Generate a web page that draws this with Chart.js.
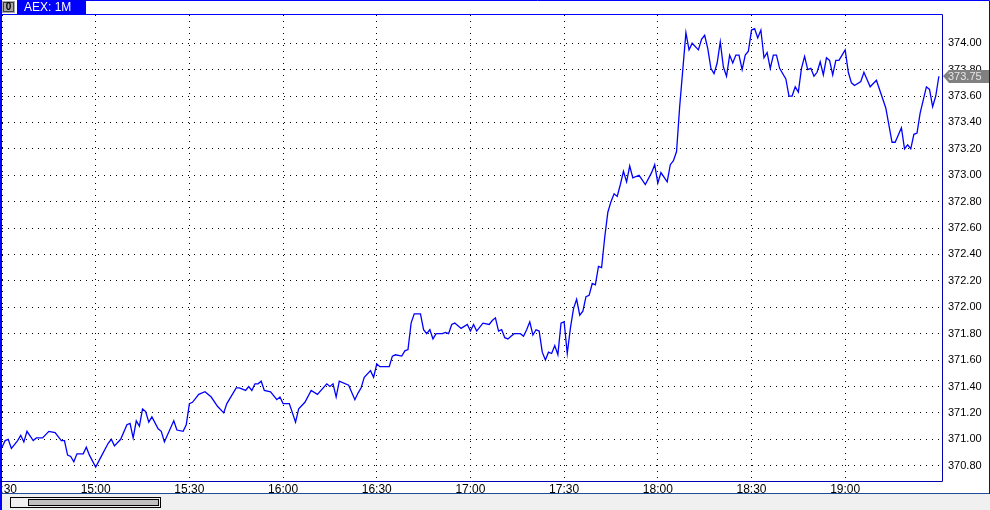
<!DOCTYPE html>
<html>
<head>
<meta charset="utf-8">
<script src="https://cdn.jsdelivr.net/npm/chart.js@4.4.1/dist/chart.umd.min.js"></script>
<style>
  html, body { margin: 0; padding: 0; background: #ffffff; }
  canvas { display: block; }
</style>
</head>
<body>
<canvas id="chart" width="990" height="510"></canvas>
<script>
// AEX, 1-minute bars: minutes after 14:30 and last price
const sessionStart = '14:30';
const minutes = [
  0, 1, 2, 3, 4, 5, 6, 7, 8, 10, 11, 13, 15, 17, 19, 20, 21, 22, 23, 24,
  26, 27, 28, 30, 32, 34, 35, 36, 38, 40, 41, 42, 43, 44, 45, 46, 47, 48, 50, 51,
  52, 55, 56, 58, 59, 60, 61, 63, 65, 67, 69, 71, 72, 75, 76, 78, 79, 80, 81, 82,
  83, 84, 86, 88, 89, 90, 92, 94, 95, 97, 99, 101, 104, 105, 106, 107, 108, 111, 113, 114,
  115, 116, 118, 119, 120, 121, 124, 125, 126, 128, 129, 130, 131, 132, 134, 135, 136, 137, 138, 139,
  141, 142, 143, 144, 145, 147, 149, 150, 151, 152, 154, 156, 157, 158, 159, 160, 161, 162, 163, 164,
  166, 167, 168, 169, 170, 171, 172, 173, 174, 175, 176, 177, 178, 179, 180, 181, 182, 183, 184, 185,
  186, 187, 188, 189, 190, 191, 192, 193, 194, 195, 196, 197, 198, 199, 200, 201, 202, 204, 206, 208,
  209, 210, 211, 213, 214, 215, 216, 217, 218, 219, 220, 221, 223, 224, 225, 226, 227, 228, 229, 230,
  231, 232, 233, 234, 235, 236, 237, 238, 239, 240, 241, 242, 243, 244, 245, 246, 247, 248, 249, 251,
  252, 253, 254, 255, 256, 257, 258, 259, 260, 261, 262, 263, 264, 265, 266, 267, 268, 269, 270, 271,
  272, 273, 275, 276, 278, 280, 281, 283, 285, 286, 288, 289, 290, 291, 292, 293, 294, 296, 297, 298,
  299, 300
];
const prices = [
  370.94, 370.99, 371.00, 370.93, 370.96, 370.99, 371.03, 370.98, 371.06, 370.99, 371.01, 371.01, 371.06, 371.05, 370.99, 370.99, 370.88, 370.87, 370.83, 370.89,
  370.89, 370.94, 370.88, 370.79, 370.88, 370.97, 371.00, 370.95, 371.00, 371.11, 371.12, 371.01, 371.14, 371.10, 371.23, 371.21, 371.13, 371.17, 371.08, 371.06,
  370.98, 371.14, 371.07, 371.06, 371.11, 371.27, 371.28, 371.34, 371.36, 371.32, 371.25, 371.20, 371.27, 371.39, 371.39, 371.37, 371.40, 371.37, 371.42, 371.42,
  371.44, 371.37, 371.36, 371.30, 371.32, 371.27, 371.27, 371.13, 371.23, 371.28, 371.37, 371.34, 371.42, 371.40, 371.42, 371.32, 371.44, 371.41, 371.30, 371.35,
  371.39, 371.47, 371.52, 371.47, 371.57, 371.55, 371.55, 371.63, 371.64, 371.63, 371.67, 371.68, 371.88, 371.95, 371.95, 371.83, 371.80, 371.83, 371.76, 371.80,
  371.80, 371.81, 371.80, 371.87, 371.88, 371.84, 371.87, 371.82, 371.87, 371.82, 371.88, 371.87, 371.90, 371.92, 371.82, 371.83, 371.77, 371.76, 371.78, 371.80,
  371.80, 371.78, 371.83, 371.89, 371.79, 371.83, 371.82, 371.66, 371.60, 371.66, 371.65, 371.71, 371.64, 371.88, 371.89, 371.65, 371.84, 371.99, 372.06, 371.94,
  371.97, 372.08, 372.09, 372.18, 372.17, 372.31, 372.30, 372.53, 372.72, 372.80, 372.86, 372.84, 372.93, 373.03, 372.95, 373.07, 372.98, 373.00, 372.93, 373.02,
  373.08, 372.94, 373.02, 372.95, 373.08, 373.11, 373.18, 373.52, 373.80, 374.08, 373.95, 374.00, 373.95, 374.03, 374.06, 373.96, 373.81, 373.77, 373.85, 374.01,
  373.82, 373.75, 373.91, 373.85, 373.91, 373.91, 373.80, 373.91, 373.94, 374.10, 374.11, 374.04, 374.10, 373.89, 373.93, 373.81, 373.91, 373.91, 373.81, 373.73,
  373.60, 373.60, 373.67, 373.63, 373.81, 373.90, 373.80, 373.81, 373.75, 373.78, 373.86, 373.76, 373.89, 373.87, 373.76, 373.87, 373.87, 373.91, 373.95, 373.78,
  373.70, 373.68, 373.71, 373.78, 373.67, 373.72, 373.65, 373.51, 373.25, 373.25, 373.36, 373.20, 373.23, 373.20, 373.31, 373.32, 373.47, 373.67, 373.65, 373.52,
  373.60, 373.75
];
const timeLabels = ['14:30', '15:00', '15:30', '16:00', '16:30', '17:00', '17:30', '18:00', '18:30', '19:00'];
const priceTicks = [370.8, 371.0, 371.2, 371.4, 371.6, 371.8, 372.0, 372.2, 372.4, 372.6, 372.8, 373.0, 373.2, 373.4, 373.6, 373.8, 374.0];

const FONT = 'Liberation Sans, Arial, sans-serif';

// "HH:MM" -> minutes after session start
const toMinutes = (label) => {
  const [h, m] = label.split(':').map(Number);
  const [h0, m0] = sessionStart.split(':').map(Number);
  return (h * 60 + m) - (h0 * 60 + m0);
};

// Terminal frame: tab, borders, scrollbar and last price tag
const terminalFrame = {
  id: 'terminalFrame',
  beforeDraw: (chart) => {
    const ctx = chart.ctx;
    ctx.save();
    ctx.fillStyle = '#ffffff';
    ctx.fillRect(0, 0, chart.width, chart.height);
    ctx.restore();
  },
  afterDraw: (chart) => {
    const ctx = chart.ctx;
    const area = chart.chartArea;
    const W = chart.width;
    const H = chart.height;
    ctx.save();

    // bottom strip with scrollbar
    ctx.fillStyle = '#f0f0f0';
    ctx.fillRect(0, 494, W, H - 494);
    ctx.strokeStyle = '#1e4c9a';
    ctx.lineWidth = 1;
    ctx.beginPath();
    ctx.moveTo(0, 493.5);
    ctx.lineTo(W, 493.5);
    ctx.stroke();

    ctx.fillStyle = '#f0f0f0';
    ctx.fillRect(10.5, 497.5, 150, 10);
    ctx.strokeStyle = '#000000';
    ctx.strokeRect(10.5, 497.5, 150, 10);
    ctx.fillStyle = '#c0c0c0';
    ctx.fillRect(28.5, 499.5, 130, 6);
    ctx.strokeRect(28.5, 499.5, 130, 6);

    // outer frame
    ctx.strokeStyle = '#0000ff';
    ctx.beginPath();
    ctx.moveTo(86, 0.5);
    ctx.lineTo(W - 0.5, 0.5);
    ctx.lineTo(W - 0.5, 494);
    ctx.stroke();
    ctx.fillStyle = '#0000ff';
    ctx.fillRect(0, 0, 2, H);

    // plot frame
    ctx.beginPath();
    ctx.moveTo(0, area.top - 0.5);
    ctx.lineTo(area.right + 0.5, area.top - 0.5);
    ctx.stroke();
    ctx.strokeStyle = '#0000b0';
    ctx.beginPath();
    ctx.moveTo(area.right + 0.5, area.top - 0.5);
    ctx.lineTo(area.right + 0.5, area.bottom + 0.5);
    ctx.lineTo(0, area.bottom + 0.5);
    ctx.stroke();

    // tab
    ctx.fillStyle = '#a8a8a8';
    ctx.fillRect(2, 1, 13, 12);
    ctx.strokeStyle = '#404040';
    ctx.strokeRect(3.5, 2.5, 10, 9);
    ctx.fillStyle = '#000000';
    ctx.font = 'bold 10px ' + FONT;
    ctx.textAlign = 'center';
    ctx.textBaseline = 'middle';
    ctx.fillText('0', 8.5, 7.5);
    ctx.fillStyle = '#0000ff';
    ctx.fillRect(17, 0, 69, 14);
    ctx.fillStyle = '#ffffff';
    ctx.font = '12px ' + FONT;
    ctx.textAlign = 'left';
    ctx.fillText('AEX: 1M', 24, 7.5);

    // last price tag
    const last = prices[prices.length - 1];
    const y = Math.round(chart.scales.y.getPixelForValue(last));
    ctx.fillStyle = '#808080';
    ctx.beginPath();
    ctx.moveTo(943, y);
    ctx.lineTo(949, y - 6);
    ctx.lineTo(989, y - 6);
    ctx.lineTo(989, y + 7);
    ctx.lineTo(949, y + 7);
    ctx.closePath();
    ctx.fill();
    ctx.fillStyle = '#e6e6e6';
    ctx.font = '11px ' + FONT;
    ctx.textAlign = 'left';
    ctx.textBaseline = 'middle';
    ctx.fillText(last.toFixed(2), 948, y + 1);

    ctx.restore();
  }
};

const gridOpts = { color: '#000000', lineWidth: 1, drawTicks: false, borderDash: [1, 5] };
const borderOpts = { display: false, dash: [1, 5] };

new Chart(document.getElementById('chart').getContext('2d'), {
  type: 'line',
  data: {
    datasets: [{
      label: 'AEX',
      data: minutes.map((m, i) => ({ x: m, y: prices[i] })),
      borderColor: '#0000ff',
      borderWidth: 1.3,
      pointRadius: 0,
      tension: 0,
      fill: false
    }]
  },
  options: {
    responsive: false,
    animation: false,
    events: [],
    layout: { padding: { left: 2, top: 15, right: 1, bottom: 0 } },
    plugins: {
      legend: { display: false },
      tooltip: { enabled: false }
    },
    scales: {
      x: {
        type: 'linear',
        position: 'bottom',
        min: 0,
        max: 301,
        grid: gridOpts,
        border: borderOpts,
        afterBuildTicks: (scale) => {
          scale.ticks = timeLabels.map(l => ({ value: toMinutes(l) }));
        },
        afterFit: (scale) => {
          scale.height = 29;
          scale.paddingLeft = 0;
          scale.paddingRight = 0;
        },
        ticks: {
          autoSkip: false,
          maxRotation: 0,
          padding: 1,
          color: '#000000',
          font: { family: FONT, size: 12 },
          callback: (value, index) => timeLabels[index]
        }
      },
      y: {
        type: 'linear',
        position: 'right',
        min: 370.684,
        max: 374.214,
        grid: gridOpts,
        border: borderOpts,
        afterBuildTicks: (scale) => {
          scale.ticks = priceTicks.map(v => ({ value: v }));
        },
        afterFit: (scale) => {
          scale.width = 47;
          scale.paddingTop = 0;
          scale.paddingBottom = 0;
        },
        ticks: {
          padding: 6,
          color: '#000000',
          font: { family: FONT, size: 11 },
          callback: (value) => Number(value).toFixed(2)
        }
      }
    }
  },
  plugins: [terminalFrame]
});
</script>
</body>
</html>
